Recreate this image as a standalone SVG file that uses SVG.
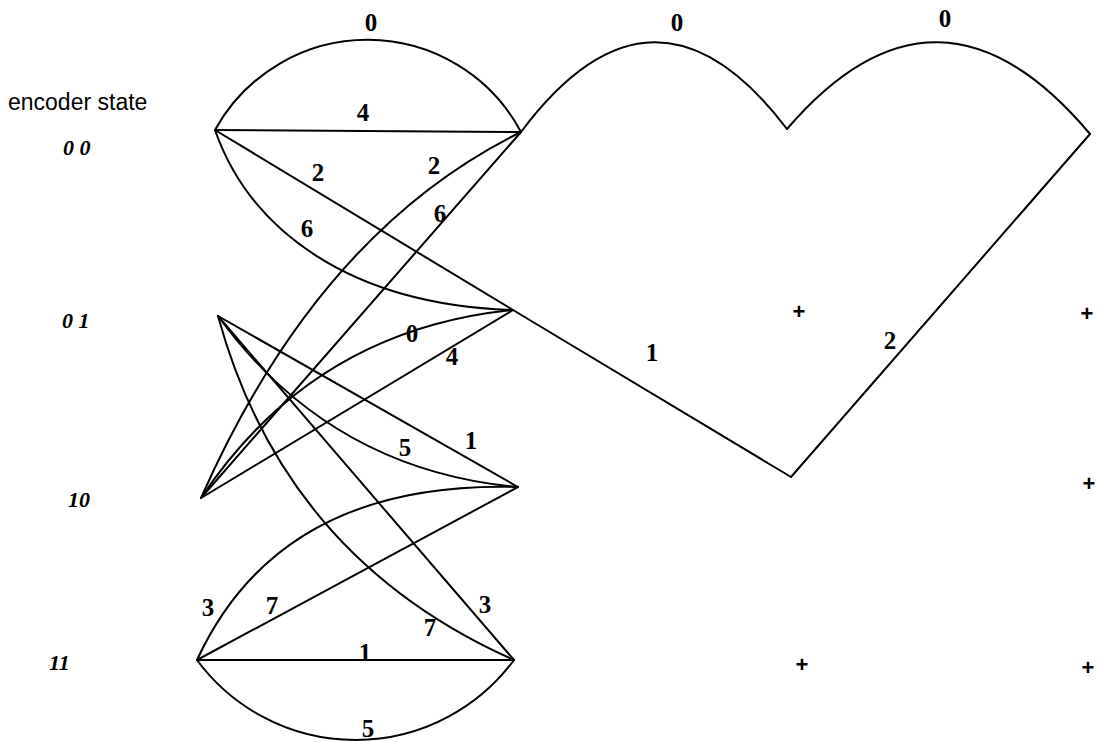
<svg xmlns="http://www.w3.org/2000/svg" width="1101" height="742" viewBox="0 0 1101 742">
<style>
.e{fill:none;stroke:#000;stroke-width:2;stroke-linejoin:round;stroke-linecap:round}
.l{font-family:"Liberation Serif","Times New Roman",serif;font-weight:bold;font-size:25px;text-anchor:middle;dominant-baseline:central;fill:#000}
.s{font-family:"Liberation Serif","Times New Roman",serif;font-weight:bold;font-style:italic;font-size:22px;fill:#000}
.t{font-family:"Liberation Sans",Arial,sans-serif;font-size:23px;fill:#000}
.p{font-family:"Liberation Sans",Arial,sans-serif;font-weight:bold;font-size:22px;text-anchor:middle;dominant-baseline:central;fill:#000}
</style>
<rect width="1101" height="742" fill="#fff"/>
<g id="title"><text class="t" x="8" y="110">encoder state</text></g>
<g id="state-00"><text class="s" x="63" y="155">0 0</text></g>
<g id="state-01"><text class="s" x="62" y="328">0 1</text></g>
<g id="state-10"><text class="s" x="68" y="507">10</text></g>
<g id="state-11"><text class="s" x="49" y="670">11</text></g>
<g id="marks">
<text class="p" x="799" y="311">+</text>
<text class="p" x="1087" y="313">+</text>
<text class="p" x="1089" y="483">+</text>
<text class="p" x="802" y="664">+</text>
<text class="p" x="1088" y="667">+</text>
</g>
<g id="connectors">
<path class="e" d="M215,130 A174,174 0 0 1 521,132"/>
<path class="e" d="M215,130 L521,132"/>
<path class="e" d="M215,130 L513,310"/>
<path class="e" d="M215,130 C250,230 350,305 513,310"/>
<path class="e" d="M201,498 Q319,231 521,132"/>
<path class="e" d="M201,498 L521,132"/>
<path class="e" d="M201,498 Q313,330 513,310"/>
<path class="e" d="M201,498 L513,310"/>
<path class="e" d="M218,316 Q330,470 518,487"/>
<path class="e" d="M218,316 L518,487"/>
<path class="e" d="M218,316 Q284,558 514,660"/>
<path class="e" d="M218,316 L514,660"/>
<path class="e" d="M197,660 Q280,480 518,487"/>
<path class="e" d="M197,660 L518,487"/>
<path class="e" d="M197,660 L514,660"/>
<path class="e" d="M197,660 A197,197 0 0 0 514,660"/>
<path class="e" d="M521,132 Q654,-46 787,129"/>
<path class="e" d="M787,129 Q938,-47 1090,134"/>
<path class="e" d="M513,310 L791,477"/>
<path class="e" d="M791,477 L1090,134"/>
</g>
<g id="labels">
<text class="l" x="371" y="22">0</text>
<text class="l" x="363" y="112">4</text>
<text class="l" x="318" y="172">2</text>
<text class="l" x="434" y="165">2</text>
<text class="l" x="440" y="213">6</text>
<text class="l" x="307" y="228">6</text>
<text class="l" x="412" y="333">0</text>
<text class="l" x="452" y="356">4</text>
<text class="l" x="405" y="447">5</text>
<text class="l" x="471" y="440">1</text>
<text class="l" x="208" y="607">3</text>
<text class="l" x="272" y="605">7</text>
<text class="l" x="430" y="627">7</text>
<text class="l" x="485" y="604">3</text>
<text class="l" x="365" y="652">1</text>
<text class="l" x="368" y="728">5</text>
<text class="l" x="677" y="22">0</text>
<text class="l" x="945" y="18">0</text>
<text class="l" x="652" y="352">1</text>
<text class="l" x="890" y="340">2</text>
</g>
</svg>
